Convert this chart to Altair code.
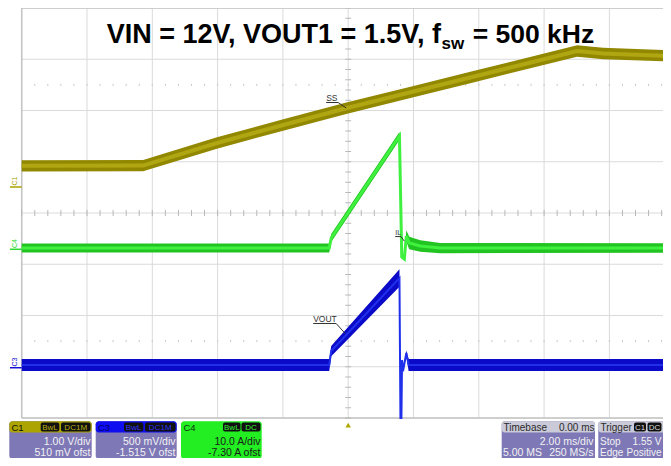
import altair as alt
import pandas as pd
import numpy as np

# ---------------- data (time in ms, trigger at centre; vertical in screen divisions) -------------
ss_t  = [-10.0, -6.28, -4.02, -1.99, -0.03, 2.00, 3.74, 7.01, 7.81, 9.89]
ss_v  = [0.92, 0.925, 1.366, 1.717, 2.049, 2.37, 2.644, 3.161, 3.112, 3.063]
ss_hw = [0.11, 0.11, 0.11, 0.11, 0.11, 0.11, 0.11, 0.11, 0.11, 0.11]

il_t  = [-10.0, -0.58, -0.52, 1.57, 1.64, 1.72, 1.78, 1.87, 2.21, 2.82, 9.89]
il_v  = [-0.683, -0.683, -0.488, 1.502, -0.859, -0.898, -0.449, -0.585, -0.644, -0.683, -0.683]
il_hw = [0.09, 0.09, 0.08, 0.08, 0.02, 0.03, 0.11, 0.12, 0.11, 0.10, 0.09]

vo_t  = [-10.0, -0.58, -0.52, 1.57, 1.60, 1.63, 1.65, 1.68, 1.78, 1.85, 9.89]
vo_v  = [-2.966, -2.966, -2.693, -1.268, -4.0, -4.0, -2.868, -3.083, -2.732, -2.966, -2.966]
vo_hw = [0.115, 0.115, 0.10, 0.17, 0.01, 0.01, 0.02, 0.03, 0.05, 0.115, 0.115]

grid_t = [-10, -8, -6, -4, -2, 0, 2, 4, 6, 8]
grid_d = [-4, -3, -2, -1, 0, 1, 2, 3, 4]

FONT = "Liberation Sans"
W, H = 655, 450
XS = alt.Scale(domain=[-10.4196, -10.4196 + W / 32.65], nice=False, zero=False)
YS = alt.Scale(domain=[4.0 - H / 51.25, 4.0], nice=False, zero=False)


def X(f):
    return alt.X(f, type="quantitative", scale=XS, axis=None)


def Y(f):
    return alt.Y(f, type="quantitative", scale=YS, axis=None)


def trace(t, v, hw, band, core, cw):
    df = pd.DataFrame({"t": t, "v": v,
                       "hi": [a + b for a, b in zip(v, hw)],
                       "lo": [a - b for a, b in zip(v, hw)]})
    base = alt.Chart(df)
    area = base.mark_area(color=band, opacity=1).encode(x=X("t"), y=Y("hi"), y2="lo")
    line = base.mark_line(color=core, strokeWidth=cw).encode(x=X("t"), y=Y("v"))
    return [area, line]


layers = []

# grid
gv = pd.DataFrame({"t": grid_t, "a": -4.0, "b": 4.0})
layers.append(alt.Chart(gv).mark_rule(color="#dadada", strokeWidth=1).encode(x=X("t"), y=Y("a"), y2="b"))
gh = pd.DataFrame({"d": grid_d, "a": -10.0, "b": 10.0})
layers.append(alt.Chart(gh).mark_rule(color="#dadada", strokeWidth=1).encode(y=Y("d"), x=X("a"), x2="b"))
# frame (left / top / bottom)
layers.append(alt.Chart(pd.DataFrame({"t": [-10.0], "a": [-4.0], "b": [4.0]})).mark_rule(
    color="#c4c4c4", strokeWidth=1.5).encode(x=X("t"), y=Y("a"), y2="b"))
layers.append(alt.Chart(pd.DataFrame({"d": [4.0, -4.0], "a": -10.0, "b": 10.0})).mark_rule(
    color="#c4c4c4", strokeWidth=1.5).encode(y=Y("d"), x=X("a"), x2="b"))

# minor ticks on centre axes
mt = np.round(np.arange(-10, 10.01, 0.4), 3)
layers.append(alt.Chart(pd.DataFrame({"t": mt, "a": -0.06, "b": 0.06})).mark_rule(
    color="#b8b8b8").encode(x=X("t"), y=Y("a"), y2="b"))
md = np.round(np.arange(-4, 4.01, 0.2), 3)
layers.append(alt.Chart(pd.DataFrame({"d": md, "a": -0.09, "b": 0.09})).mark_rule(
    color="#b8b8b8").encode(y=Y("d"), x=X("a"), x2="b"))
# dotted rows
for row in (2.5, -2.5):
    layers.append(alt.Chart(pd.DataFrame({"t": mt, "a": row - 0.02, "b": row + 0.02})).mark_rule(
        color="#c8c8c8").encode(x=X("t"), y=Y("a"), y2="b"))

# traces
layers += trace(ss_t, ss_v, ss_hw, "#928800", "#b0a612", 4)
layers += trace(il_t, il_v, il_hw, "#22c422", "#3ff03f", 3)
layers += trace(vo_t, vo_v, vo_hw, "#0a0ac8", "#2030ea", 2)


def seg(t1, d1, t2, d2, color="#333333", w=1):
    df = pd.DataFrame({"t": [t1], "d": [d1], "t2": [t2], "d2": [d2]})
    return alt.Chart(df).mark_rule(color=color, strokeWidth=w).encode(
        x=X("t"), y=Y("d"), x2="t2", y2="d2")


def dtext(t, d, s, size=8, color="#333333", angle=0, align="left", baseline="alphabetic"):
    df = pd.DataFrame({"t": [t], "d": [d], "s": [s]})
    return alt.Chart(df).mark_text(font=FONT, fontSize=size, color=color, angle=angle,
                                   align=align, baseline=baseline).encode(
        x=X("t"), y=Y("d"), text="s")


# trace labels
layers.append(dtext(-0.674, 2.185, "SS", 8.5))
layers.append(seg(-0.674, 2.156, -0.306, 2.156))
layers.append(seg(-0.306, 2.156, -0.061, 2.049))
layers.append(dtext(-1.072, -2.121, "VOUT", 8.5))
layers.append(seg(-1.072, -2.156, -0.368, -2.156))
layers.append(seg(-0.368, -2.156, -0.092, -2.351))
layers.append(dtext(1.44, -0.43, "IL", 7))
layers.append(seg(1.44, -0.46, 1.62, -0.46))
layers.append(seg(1.62, -0.46, 1.72, -0.55))

# channel ground markers
for lab, dl, dg, col in (("C1", 0.624, 0.507, "#aaa200"), ("C4", -0.595, -0.708, "#30d830"),
                         ("C3", -2.907, -3.019, "#1010d0")):
    layers.append(dtext(-10.2, dl, lab, 7, col, angle=270, align="center", baseline="middle"))
    layers.append(seg(-10.36, dg, -10.0, dg, col, 1.5))

# trigger position marker
layers.append(alt.Chart(pd.DataFrame({"t": [0.0], "d": [-4.137]})).mark_point(
    shape="triangle-up", filled=True, size=30, color="#b0a800", opacity=1).encode(x=X("t"), y=Y("d")))

one = pd.DataFrame({"k": [0]})


def rect(x1, x2, y1, y2, fill, r=3):
    return alt.Chart(one).mark_rect(color=fill, cornerRadius=r, opacity=1).encode(
        x=alt.value(x1 - 8), x2=alt.value(x2 - 8), y=alt.value(y1 - 8), y2=alt.value(y2 - 8))


def ptext(x, y, s, size=10, color="#f2f2f2", align="left", weight="normal"):
    return alt.Chart(one).mark_text(font=FONT, fontSize=size, color=color, align=align,
                                    baseline="alphabetic", fontWeight=weight).encode(
        x=alt.value(x - 8), y=alt.value(y - 8), text=alt.value(s))


# title
layers.append(ptext(106.7, 43.3, "VIN = 12V, VOUT1 = 1.5V, f", 27, "#000000", weight="bold"))
layers.append(ptext(441.5, 48.5, "sw", 17, "#000000", weight="bold"))
layers.append(ptext(472.7, 43.3, "= 500 kHz", 26.5, "#000000", weight="bold"))

# status bar (shifted up slightly so that it fits in the page)
B0 = 421.3
HB = B0 + 11.2          # header bottom
L1 = B0 + 23.2          # first body line baseline
L2 = B0 + 34.2          # second body line baseline
BB = B0 + 37.5
HT = B0 + 1.3
HBt = B0 + 10.3
HTX = B0 + 9.2
LAV = "#7e78b7"
# C1 box
layers.append(rect(9.3, 91.7, B0, BB, LAV))
layers.append(rect(9.3, 91.7, B0, HB, "#aca400"))
layers.append(ptext(11.5, HTX, "C1", 9.5, "#111111"))
layers.append(rect(40.7, 59.3, HT, HBt, "#111111", 2))
layers.append(ptext(50, HTX - 0.5, "BwL", 8, "#b8ae10", "center"))
layers.append(rect(61, 90.5, HT, HBt, "#111111", 2))
layers.append(ptext(75.7, HTX - 0.5, "DC1M", 8, "#b8ae10", "center"))
layers.append(ptext(90.5, L1, "1.00 V/div", 10.5, align="right"))
layers.append(ptext(90.5, L2, "510 mV ofst", 10.5, align="right"))
# C3 box
layers.append(rect(95.7, 176.7, B0, BB, LAV))
layers.append(rect(95.7, 176.7, B0, HB, "#0e0ef0"))
layers.append(ptext(98, HTX, "C3", 9.5, "#00006a"))
layers.append(rect(124, 143.3, HT, HBt, "#111111", 2))
layers.append(ptext(133.6, HTX - 0.5, "BwL", 8, "#3030ff", "center"))
layers.append(rect(145, 175.5, HT, HBt, "#111111", 2))
layers.append(ptext(160.2, HTX - 0.5, "DC1M", 8, "#3030ff", "center"))
layers.append(ptext(175.5, L1, "500 mV/div", 10.5, align="right"))
layers.append(ptext(175.5, L2, "-1.515 V ofst", 10.5, align="right"))
# C4 box
layers.append(rect(181, 261.7, B0, BB, "#22ee22"))
layers.append(ptext(183.5, HTX, "C4", 9.5, "#113311"))
layers.append(rect(223, 240.5, HT, HBt, "#111111", 2))
layers.append(ptext(231.8, HTX - 0.5, "BwL", 8, "#30f030", "center"))
layers.append(rect(241.5, 260.5, HT, HBt, "#111111", 2))
layers.append(ptext(251, HTX - 0.5, "DC", 8, "#30f030", "center"))
layers.append(ptext(260.5, L1, "10.0 A/div", 10.5, "#1a1a1a", "right"))
layers.append(ptext(260.5, L2, "-7.30 A ofst", 10.5, "#1a1a1a", "right"))
# Timebase box
layers.append(rect(501.7, 595, B0, BB + 2, LAV))
layers.append(rect(501.7, 595, B0, HB, "#cacad8"))
layers.append(ptext(503.5, HTX, "Timebase", 10, "#2a2a2a"))
layers.append(ptext(594.5, HTX, "0.00 ms", 10, "#2a2a2a", "right"))
layers.append(ptext(593.5, L1, "2.00 ms/div", 10.5, align="right"))
layers.append(ptext(503, L2, "5.00 MS", 10.5))
layers.append(ptext(593.5, L2, "250 MS/s", 10.5, align="right"))
# Trigger box
layers.append(rect(598.3, 680, B0, BB + 2, LAV))
layers.append(rect(598.3, 680, B0, HB, "#cacad8"))
layers.append(ptext(600.5, HTX, "Trigger", 10, "#2a2a2a"))
layers.append(rect(634, 646, HT, HBt, "#111111", 2))
layers.append(ptext(640, HTX - 0.5, "C1", 8, "#d8d8d8", "center"))
layers.append(rect(647.5, 661.5, HT, HBt, "#111111", 2))
layers.append(ptext(654.5, HTX - 0.5, "DC", 8, "#d8d8d8", "center"))
layers.append(ptext(600, L1, "Stop", 10))
layers.append(ptext(661.5, L1, "1.55 V", 10, align="right"))
layers.append(ptext(600, L2, "Edge", 10))
layers.append(ptext(661.5, L2, "Positive", 10, align="right"))

chart = alt.layer(*layers).properties(
    width=W, height=H, padding=0, background="white",
    autosize=alt.AutoSizeParams(type="none")
).configure_view(stroke=None)

chart.save("out.html", embed_options={"renderer": "svg", "actions": False})
